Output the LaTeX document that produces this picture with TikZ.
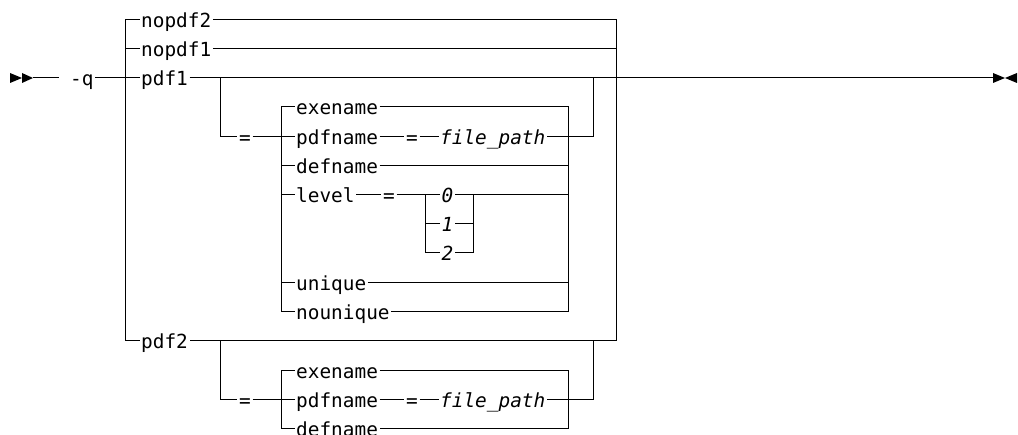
\documentclass[tikz,border=0pt]{standalone}
\usepackage{fontspec}
\setmonofont{DejaVu Sans Mono}
\usepackage{tikz}
\usetikzlibrary{calc}
\newcommand{\synfont}{\fontsize{19.4pt}{23pt}\selectfont\ttfamily}

\begin{document}
\begin{tikzpicture}[x=1pt,y=-1pt,
  rail/.style={line width=1pt},
  kw/.style={font=\synfont, anchor=west, inner xsep=1.5pt, inner ysep=0pt, text height=15.4pt, text depth=0pt},
  var/.style={kw, font=\synfont\itshape},
  eqs/.style={kw, anchor=center}]
  \useasboundingbox (0,0) rectangle (1018,435);
  % Bars of the choices
  \coordinate (oL) at (125,0); \coordinate (oR) at (616,0);
  \coordinate (aB) at (220,0); \coordinate (aR) at (593,0);
  \coordinate (iL) at (281,0); \coordinate (iR) at (568,0);
  \coordinate (lL) at (425,0); \coordinate (lR) at (473,0);
  \coordinate (start) at (33,78); \coordinate (fin) at (993,78);
  % Start and end marks
  \fill (10,73) -- (22,78) -- (10,83) -- cycle;
  \fill (22,73) -- (33,78) -- (22,83) -- cycle;
  \fill (993,73) -- (1005,78) -- (993,83) -- cycle;
  \fill (1017,73) -- (1005,78) -- (1017,83) -- cycle;
  % Outer choice
  \node[kw] (q) at (68.5,78) {-q};
  \node[kw] (nopdf2) at (139.5,20) {nopdf2};
  \node[kw] (nopdf1) at (139.5,49) {nopdf1};
  \node[kw] (pdf1) at (139.5,78) {pdf1};
  \node[kw] (pdf2) at (139.5,341) {pdf2};
  % Options of pdf1
  \node[eqs] (eqA) at (245,137) {=};
  \node[kw] (exeA) at (294.5,107) {exename};
  \node[kw] (pdfnA) at (294.5,137) {pdfname};
  \node[eqs] (eqPA) at (412,137) {=};
  \node[var] (fpA) at (438.5,137) {file\_path};
  \node[kw] (defnA) at (294.5,166) {defname};
  \node[kw] (levA) at (294.5,195) {level};
  \node[eqs] (eqL) at (389,195) {=};
  \node[var] (zero) at (440,195) {0};
  \node[var] (one) at (440,224) {1};
  \node[var] (two) at (440,253) {2};
  \node[kw] (uniqA) at (294.5,283) {unique};
  \node[kw] (nouniqA) at (294.5,312) {nounique};
  % Options of pdf2
  \node[eqs] (eqB) at (245,400) {=};
  \node[kw] (exeB) at (294.5,371) {exename};
  \node[kw] (pdfnB) at (294.5,400) {pdfname};
  \node[eqs] (eqPB) at (412,400) {=};
  \node[var] (fpB) at (438.5,400) {file\_path};
  \node[kw] (defnB) at (294.5,429) {defname};
  % Main line
  \draw[rail, shorten >=10pt] (start) -- (q.west);
  \draw[rail] (q.east) -- (pdf1.west);
  \draw[rail] (pdf1.east) -- (fin);
  \draw[rail] (nopdf2.west) -| (oL |- pdf2.west) -- (pdf2.west);
  \draw[rail] (nopdf1.west) -- (oL |- nopdf1.west);
  \draw[rail] (nopdf2.east) -| (oR |- pdf2.east) -- (pdf2.east);
  \draw[rail] (nopdf1.east) -- (oR |- nopdf1.east);
  % pdf1 group
  \draw[rail] (aB |- pdf1.east) |- (eqA.west);
  \draw[rail] (eqA.east) -- (iL |- eqA.east);
  \draw[rail] (exeA.west) -| (iL |- nouniqA.west) -- (nouniqA.west);
  \draw[rail] (exeA.east) -| (iR |- nouniqA.east) -- (nouniqA.east);
  \foreach \n in {pdfnA,defnA,levA,uniqA} \draw[rail] (\n.west) -- (iL |- \n.west);
  \foreach \n in {defnA,uniqA} \draw[rail] (\n.east) -- (iR |- \n.east);
  \draw[rail] (pdfnA.east) -- (eqPA.west) (eqPA.east) -- (fpA.west);
  \draw[rail] (fpA.east) -| (aR |- pdf1.east);
  \draw[rail] (levA.east) -- (eqL.west) (eqL.east) -- (lL |- eqL.east);
  \draw[rail] (zero.west) -| (lL |- two.west) -- (two.west);
  \draw[rail] (zero.east) -| (lR |- two.east) -- (two.east);
  \draw[rail] (one.west) -- (lL |- one.west) (one.east) -- (lR |- one.east);
  \draw[rail] (lR |- zero.east) -- (iR |- zero.east);
  % pdf2 group
  \draw[rail] (aB |- pdf2.east) |- (eqB.west);
  \draw[rail] (eqB.east) -- (iL |- eqB.east);
  \draw[rail] (exeB.west) -| (iL |- defnB.west) -- (defnB.west);
  \draw[rail] (exeB.east) -| (iR |- defnB.east) -- (defnB.east);
  \draw[rail] (pdfnB.west) -- (iL |- pdfnB.west);
  \draw[rail] (pdfnB.east) -- (eqPB.west) (eqPB.east) -- (fpB.west);
  \draw[rail] (fpB.east) -| (aR |- pdf2.east);
\end{tikzpicture}
\end{document}
